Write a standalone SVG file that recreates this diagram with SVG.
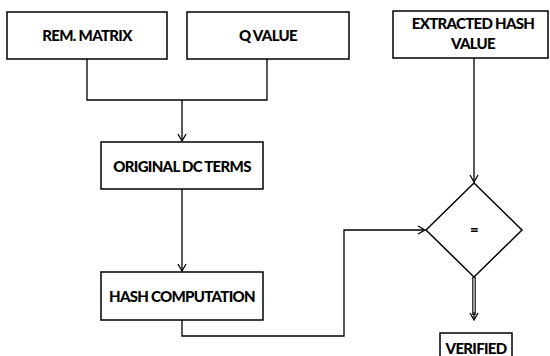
<svg xmlns="http://www.w3.org/2000/svg" width="550" height="356" viewBox="0 0 550 356">
<style>
.box{fill:#fff;stroke:#000;stroke-width:1.5}
.t{font-family:Lato,"Liberation Sans",sans-serif;font-weight:900;font-size:15px;text-anchor:middle;fill:#000;letter-spacing:-0.7px}
.c{fill:none;stroke:#000;stroke-width:1.3}
</style>
<defs>
<marker id="ah" markerWidth="10" markerHeight="10" refX="8" refY="5" orient="auto" markerUnits="userSpaceOnUse">
<path d="M1,1 L8,5 L1,9" fill="none" stroke="#000" stroke-width="1.3"/>
</marker>
</defs>
<rect width="550" height="356" fill="#fff"/>
<g id="connectors">
<path class="c" d="M87,59 V100 H267 V59"/>
<path class="c" d="M182,100 V141" marker-end="url(#ah)"/>
<path class="c" d="M182,189 V271" marker-end="url(#ah)"/>
<path class="c" d="M182,320 V336 H344 V230 H425" marker-end="url(#ah)"/>
<path class="c" d="M474,58 V182" marker-end="url(#ah)"/>
<path fill="none" stroke="#000" stroke-width="3.5" d="M474,277 V315"/>
<path fill="none" stroke="#fff" stroke-width="1.2" d="M474,278 V314"/>
<path class="c" d="M474,312 V320" marker-end="url(#ah)"/>
</g>
<g id="rem"><rect class="box" x="7" y="12" width="160" height="47"/><text class="t" x="87" y="41">REM. MATRIX</text></g>
<g id="qvalue"><rect class="box" x="187" y="12" width="162" height="47"/><text class="t" x="268" y="41">Q VALUE</text></g>
<g id="extracted"><rect class="box" x="393" y="11" width="155" height="47"/><text class="t" x="473" y="29">EXTRACTED HASH</text><text class="t" x="473" y="49">VALUE</text></g>
<g id="original"><rect class="box" x="101" y="142" width="162" height="47"/><text class="t" x="182" y="172">ORIGINAL DC TERMS</text></g>
<g id="hash"><rect class="box" x="101" y="272" width="162" height="48"/><text class="t" x="182" y="302">HASH COMPUTATION</text></g>
<g id="compare"><path class="box" d="M474,183 L522,230 L474,277 L426,230 Z"/><text class="t" x="474" y="235">=</text></g>
<g id="verified"><rect class="box" x="440" y="333" width="72" height="30"/><text class="t" x="476" y="354">VERIFIED</text></g>
</svg>
